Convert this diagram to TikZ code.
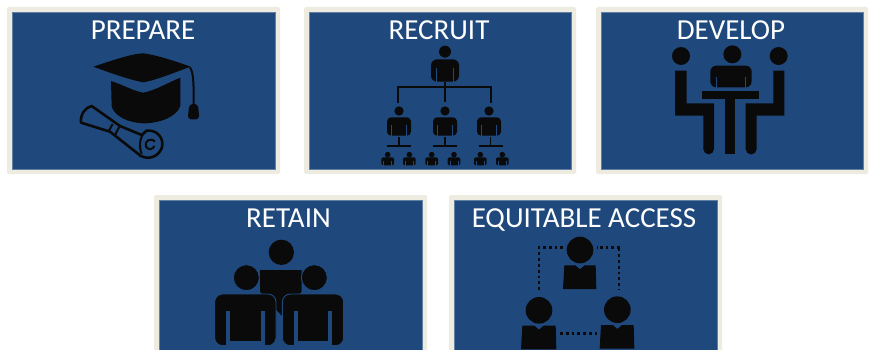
\documentclass[tikz,border=0pt]{standalone}
\usepackage{fontspec}
\setmainfont{Carlito}
\definecolor{panelblue}{HTML}{1F497D}
\definecolor{paneledge}{HTML}{EEECE1}
\definecolor{iconblack}{HTML}{0A0A0A}
\tikzset{
  outerbox/.style={fill=paneledge,rounded corners=1.5pt},
  innerbox/.style={fill=panelblue,draw=panelblue!70!white,line width=.4pt},
  title/.style={text=white,anchor=base,inner sep=0pt,font=\fontsize{29}{30}\selectfont},
  zoomed/.style={shift={(#1)},x=.33333pt,y=-.33333pt},
  ink/.style={fill=iconblack},
  inkline/.style={draw=iconblack,line width=#1},
  gap/.style={draw=panelblue,line width=#1},
  dots/.style={draw=iconblack,line width=2.6pt,dash pattern=on 2.8pt off 3pt}
}
% cx, head cy, head r, body top, half width, body bottom, corner radius, gap width
\newcommand{\personicon}[8]{%
  \fill[ink] (#1,#2) circle (#3);
  \fill[ink,rounded corners=#7] ({#1-#5},#6) -- ({#1-#5},#4) -- ({#1+#5},#4) -- ({#1+#5},#6) -- cycle;
  \draw[gap=#8] ({#1-0.62*#5},{#4+0.4*(#6-#4)}) -- ({#1-0.62*#5},{#6+2});
  \draw[gap=#8] ({#1+0.62*#5},{#4+0.4*(#6-#4)}) -- ({#1+0.62*#5},{#6+2});
}
\newcommand{\panel}[5]{%
  \fill[outerbox] (#1,#2) rectangle (#3,#4);
  \fill[innerbox] ({#1+5},{#2+5}) rectangle ({#3-5},{#4-5});
}
\begin{document}
\begin{tikzpicture}[x=1pt,y=-1pt]
\useasboundingbox (0,0) rectangle (869,350);
\clip (0,0) rectangle (869,350);
\fill[white] (0,0) rectangle (869,350);

\panel{7}{7}{280}{174}{}
\panel{304}{7}{576}{174}{}
\panel{596}{7}{868}{174}{}
\panel{154}{195}{427}{360}{}
\panel{449}{195}{722}{360}{}

\node[title] (prepare) at (143,40) {PREPARE};
\node[title] (recruit) at (439,40) {RECRUIT};
\node[title] (develop) at (731,40) {DEVELOP};
\node[title] (retain) at (288.5,227) {RETAIN};
\node[title] (access) at (584,227) {EQUITABLE ACCESS};

% --- graduation cap and scroll
\begin{scope}[zoomed={0,0}]
  \fill[ink] (280,200) .. controls (340,180) and (400,160) .. (430,160)
     .. controls (470,165) and (530,185) .. (572,200)
     .. controls (530,215) and (470,240) .. (430,247)
     .. controls (390,240) and (320,215) .. (280,200) -- cycle;
  \fill[ink] (333,243) .. controls (370,255) and (405,275) .. (430,278)
     .. controls (465,272) and (510,245) .. (541,233)
     -- (541,318) .. controls (530,350) and (480,370) .. (430,370)
     .. controls (385,368) and (345,350) .. (335,320) -- cycle;
  \draw[inkline=2pt] (570,202) .. controls (582,220) and (581,260) .. (581,320);
  \fill[ink,rounded corners=3.5pt] (568,312) -- (594,312) -- (598,358) -- (563,358) -- cycle;
  \draw[inkline=2.6pt,line join=round] (275,318) .. controls (255,322) and (240,345) .. (243,368)
     -- (330,395) -- (415,462) .. controls (430,478) and (470,480) .. (485,445)
     .. controls (495,415) and (470,388) .. (440,392) -- (425,405) -- (360,378) -- (275,318) -- cycle;
  \draw[inkline=2pt] (338,372) -- (325,395) (358,380) -- (345,405);
  \draw[inkline=2pt] (440,392) .. controls (420,405) and (415,435) .. (425,462);
  \draw[inkline=2pt] (465,425) .. controls (450,410) and (432,425) .. (438,440)
     .. controls (445,452) and (460,448) .. (463,438);
\end{scope}

% --- organisation chart
\begin{scope}[zoomed={295,0}]
  \personicon{450}{155}{18}{178}{42}{245}{6pt}{1.2pt}
  \draw[inkline=2.2pt] (308,308) -- (308,262) -- (588,262) -- (588,308);
  \draw[inkline=2pt] (450,245) -- (450,305);
  \personicon{312}{333}{14}{352}{36}{407}{4pt}{1.1pt}
  \personicon{450}{333}{14}{352}{36}{407}{4pt}{1.1pt}
  \personicon{582}{333}{14}{352}{36}{407}{4pt}{1.1pt}
  \foreach \c/\l/\r in {312/277/348,450/413/487,587/551/624}{
    \draw[inkline=1.5pt] (\c,412) -- (\c,437);
    \draw[inkline=2pt] (\l,437) -- (\r,437);
  }
  \foreach \c in {278,343,410,477,556,622}{
    \personicon{\c}{464}{8.5}{472}{19}{496}{2pt}{.5pt}
  }
\end{scope}

% --- meeting at a table
\begin{scope}[zoomed={585,0}]
  \fill[ink] (288,168) circle (27);
  \fill[ink] (442,163) circle (27);
  \fill[ink] (581,168) circle (27);
  \fill[ink] (270,212) -- (305,212) -- (305,310) -- (387,310) -- (387,447) -- (355,447) -- (355,347) -- (270,347) -- cycle;
  \fill[ink] (371,447) circle (16);
  \fill[ink] (598,212) -- (565,212) -- (565,310) -- (482,310) -- (482,447) -- (515,447) -- (515,347) -- (598,347) -- cycle;
  \fill[ink] (498.5,447) circle (16.5);
  \fill[ink] (352,272) rectangle (522,296);
  \fill[ink] (420,296) rectangle (450,462);
  \fill[ink,rounded corners=6pt] (376,262) -- (376,197) -- (500,197) -- (500,262) -- cycle;
  \draw[gap=1.4pt] (394,230) -- (394,264);
  \draw[gap=1.4pt] (482,230) -- (482,264);
\end{scope}

% --- team of three
\begin{scope}[zoomed={145,185}]
  \fill[ink] (409,202) circle (38);
  \fill[ink] (345,255) -- (470,255) -- (470,320) -- (410,392) -- (345,320) -- cycle;
  \foreach \c/\h in {301/304,504/508}{
    \filldraw[fill=iconblack,draw=panelblue,line width=.9pt] (\h,278) circle (39);
    \filldraw[fill=iconblack,draw=panelblue,line width=.9pt,rounded corners=8pt]
      ({\c-92},482) -- ({\c-92},327) -- ({\c+92},327) -- ({\c+92},482) -- cycle;
    \fill[panelblue] ({\c-58},378) rectangle ({\c-46},484);
    \fill[panelblue] ({\c+46},378) rectangle ({\c+58},484);
    \fill[panelblue] ({\c-58},469) rectangle ({\c+58},484);
  }
\end{scope}

% --- equitable access
\begin{scope}[zoomed={440,185}]
  \draw[dots] (297,315) -- (297,188) -- (368,188);
  \draw[dots] (540,188) -- (470,188);
  \draw[dots] (537,190) -- (537,315);
  \draw[dots] (360,446) -- (470,446);
  \foreach \c/\h/\t/\w in {420/195/241/47,297/376/422/50,532/374/420/49}{
    \fill[ink] (\c,\h) circle (40);
    \fill[ink] ({\c-\w},\t) -- ({\c-14},\t) -- (\c,{\t+12}) -- ({\c+14},\t) -- ({\c+\w},\t) -- ({\c+\w+2},{\t+71}) -- ({\c-\w-4},{\t+71}) -- cycle;
  }
\end{scope}
\end{tikzpicture}
\end{document}
